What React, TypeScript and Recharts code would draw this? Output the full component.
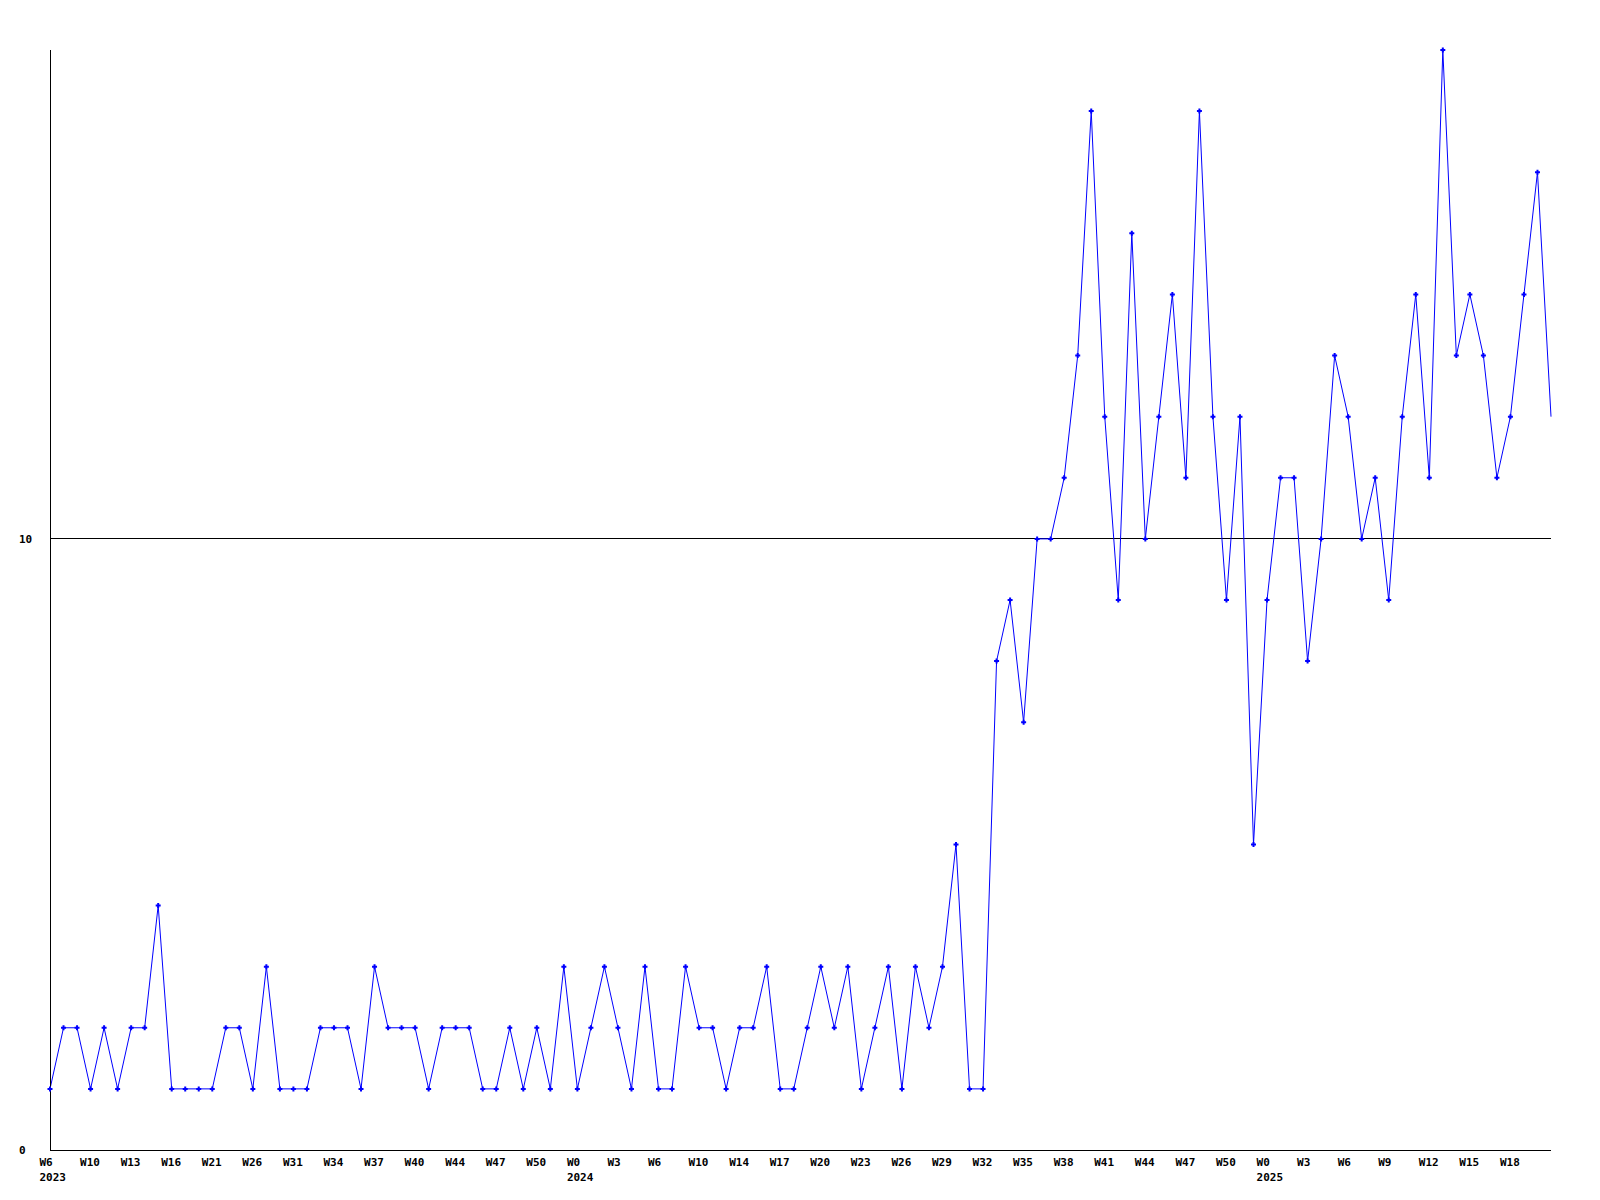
import { LineChart, Line, XAxis, YAxis, ReferenceLine } from "recharts"

const values = [
  1, 2, 2, 1, 2, 1, 2, 2, 4, 1,
  1, 1, 1, 2, 2, 1, 3, 1, 1, 1,
  2, 2, 2, 1, 3, 2, 2, 2, 1, 2,
  2, 2, 1, 1, 2, 1, 2, 1, 3, 1,
  2, 3, 2, 1, 3, 1, 1, 3, 2, 2,
  1, 2, 2, 3, 1, 1, 2, 3, 2, 3,
  1, 2, 3, 1, 3, 2, 3, 5, 1, 1,
  8, 9, 7, 10, 10, 11, 13, 17, 12, 9,
  15, 10, 12, 14, 11, 17, 12, 9, 12, 5,
  9, 11, 11, 8, 10, 13, 12, 10, 11, 9,
  12, 14, 11, 18, 13, 14, 13, 11, 12, 14,
  16, 12,
]

const weekLabels = [
  "W6", "W10", "W13", "W16", "W21", "W26", "W31", "W34", "W37", "W40", "W44", "W47", "W50",
  "W0", "W3", "W6", "W10", "W14", "W17", "W20", "W23", "W26", "W29", "W32", "W35", "W38",
  "W41", "W44", "W47", "W50",
  "W0", "W3", "W6", "W9", "W12", "W15", "W18",
]

const yearLabels: Record<number, string> = { 0: "2023", 13: "2024", 30: "2025" }

const yTicks = [0, 10]

const data = values.map((v, i) => ({ idx: i, count: v }))
const xTicks = weekLabels.map((_, k) => k * 3)

const font = "'DejaVu Sans Mono', monospace"

function WeekTick(props: any) {
  const { x, y, payload } = props
  const k = Math.round(payload.value / 3)
  const year = yearLabels[k]
  return (
    <g>
      <text x={x - 10.5} y={y + 8} textAnchor="start" fontFamily={font} fontWeight="bold" fontSize={11} fill="#000">
        {weekLabels[k]}
      </text>
      {year && (
        <text x={x - 10.5} y={y + 23} textAnchor="start" fontFamily={font} fontWeight="bold" fontSize={11} fill="#000">
          {year}
        </text>
      )}
    </g>
  )
}

function CountTick(props: any) {
  const { y, payload } = props
  return (
    <text x={19} y={y + 4} textAnchor="start" fontFamily={font} fontWeight="bold" fontSize={11} fill="#000">
      {payload.value}
    </text>
  )
}

function PlusDot(props: any) {
  const { cx, cy, index } = props
  if (index === values.length - 1) return <g key={index} />
  return (
    <path
      key={index}
      d={`M${cx - 2.5},${cy}H${cx + 2.5}M${cx},${cy - 2.5}V${cy + 2.5}`}
      stroke="#0000ff"
      strokeWidth={2}
      fill="none"
    />
  )
}

export default function App() {
  return (
    <div style={{ position: "absolute", left: 0, top: 0, width: 1600, height: 1200, background: "#fff" }}>
      <LineChart width={1600} height={1200} data={data} margin={{ top: 50, right: 49, left: 0, bottom: 0 }}>
        <XAxis
          dataKey="idx"
          type="number"
          domain={[0, values.length - 1]}
          ticks={xTicks}
          interval={0}
          height={50}
          tickLine={false}
          axisLine={{ stroke: "#000", strokeWidth: 1, shapeRendering: "crispEdges" }}
          tick={<WeekTick />}
        />
        <YAxis
          type="number"
          domain={[0, 18]}
          ticks={yTicks}
          width={50}
          tickLine={false}
          axisLine={{ stroke: "#000", strokeWidth: 1, shapeRendering: "crispEdges" }}
          tick={<CountTick />}
        />
        <ReferenceLine y={10} stroke="#000" strokeWidth={1} shapeRendering="crispEdges" />
        <Line
          type="linear"
          dataKey="count"
          stroke="#0000ff"
          strokeWidth={1}
          dot={<PlusDot />}
          activeDot={false}
          isAnimationActive={false}
        />
      </LineChart>
    </div>
  )
}
